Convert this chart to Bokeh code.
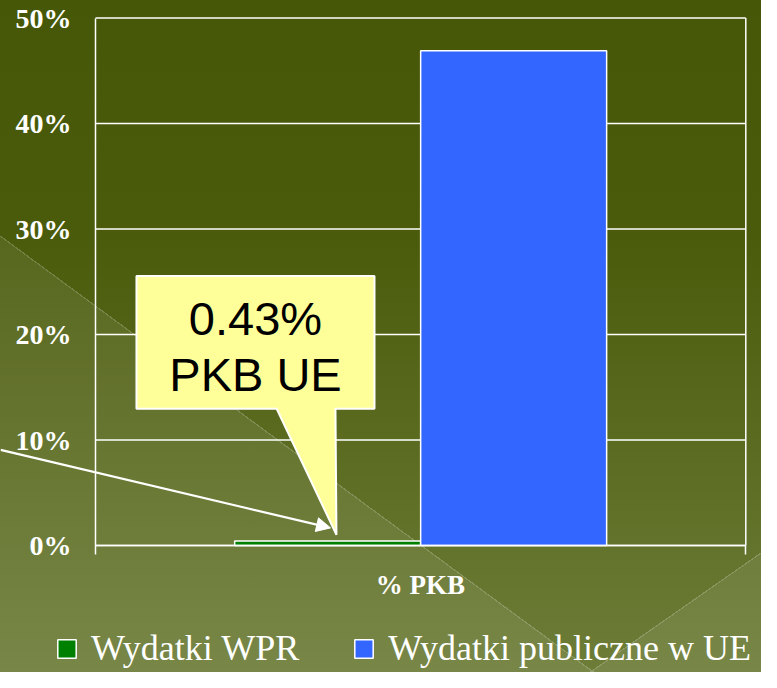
import math
from bokeh.plotting import figure
from bokeh.models import (Range1d, FixedTicker, PrintfTickFormatter, Legend, LegendItem,
                          Label, Arrow, NormalHead, ColumnDataSource, LinearAxis)
from bokeh.embed import file_html
from bokeh.resources import INLINE

# ---- data ----
category = "% PKB"
series = ["Wydatki WPR", "Wydatki publiczne w UE"]
values = [0.43, 46.9]
colors = ["#008000", "#3366FF"]
y_ticks = [0, 10, 20, 30, 40, 50]
callout_lines = ["0.43%", "PKB UE"]

W, H = 761, 672
# frame layout (pixels inside the canvas) for the value area
FL, FR, FT, FB = 95.0, 745.3, 17.6, 545.0
ppx = (FR - FL) / 1.0
ppy = (FB - FT) / 50.0

# ---- background (CSS gradients on the plot element) ----
def overlay(px, py, slope):
    nx, ny = -slope, 1.0
    n = math.hypot(nx, ny)
    nx, ny = nx / n, ny / n
    theta = math.degrees(math.atan2(nx, -ny)) % 360
    th = math.radians(theta)
    dx, dy = math.sin(th), -math.cos(th)
    L = abs(W * dx) + abs(H * dy)
    t0 = (px - W / 2) * dx + (py - H / 2) * dy + L / 2
    clear = "rgba(255,255,255,0)"
    edge = "rgba(255,255,255,0.22)"
    light = "rgba(255,255,255,0.075)"
    return (f"linear-gradient({theta:.2f}deg, {clear} 0px, {clear} {t0-0.6:.1f}px, "
            f"{edge} {t0-0.6:.1f}px, {edge} {t0+0.6:.1f}px, {light} {t0+0.6:.1f}px, {light} 100%)")

bg = ", ".join([
    overlay(0, 235.9, 0.735),
    overlay(590.6, 672, -0.698),
    "linear-gradient(to bottom, #465707 0%, #4a5b0b 35%, #6d7d38 100%)",
])

x_range = Range1d(-FL / ppx, (W - FL) / ppx)
y_range = Range1d(-(H - FB) / ppy, 50 + FT / ppy)

p = figure(width=W, height=H, output_backend="svg", toolbar_location=None,
           x_range=x_range, y_range=y_range, x_axis_type=None, y_axis_type=None,
           min_border=0)
p.styles = {"background": bg}
p.border_fill_color = None
p.background_fill_color = None
p.outline_line_color = None
p.grid.visible = False

# gridlines and right border of the value area
p.segment(x0=0, x1=1, y0=y_ticks, y1=y_ticks, line_color="white", line_width=1.5)
p.segment(x0=[1], x1=[1], y0=[0], y1=[50], line_color="white", line_width=1.5)

# y axis
ya = LinearAxis(fixed_location=0, bounds=(0, 50))
ya.ticker = FixedTicker(ticks=y_ticks)
ya.formatter = PrintfTickFormatter(format="%d%%")
ya.axis_line_color = "white"
ya.axis_line_width = 1.5
ya.major_tick_out = 0
ya.major_tick_in = 0
ya.minor_tick_out = 0
ya.minor_tick_in = 0
ya.major_label_standoff = 24
ya.major_label_text_font = "Liberation Serif"
ya.major_label_text_font_style = "bold"
ya.major_label_text_font_size = "28px"
ya.major_label_text_color = "white"
p.add_layout(ya, "left")

# x axis
xa = LinearAxis(fixed_location=0, bounds=(0, 1))
xa.ticker = FixedTicker(ticks=[0, 1])
xa.major_label_overrides = {0: "", 1: ""}
xa.major_label_text_font_size = "0px"
xa.major_label_standoff = 0
xa.axis_line_color = "white"
xa.axis_line_width = 1.5
xa.major_tick_line_color = "white"
xa.major_tick_line_width = 1.5
xa.major_tick_out = 9
xa.major_tick_in = 0
xa.minor_tick_out = 0
xa.minor_tick_in = 0
xa.axis_label = category
xa.axis_label_standoff = 15
xa.axis_label_text_font = "Liberation Serif"
xa.axis_label_text_font_style = "bold"
xa.axis_label_text_font_size = "27px"
xa.axis_label_text_color = "white"
p.add_layout(xa, "below")

# bars: two series clustered inside the single category
bar_w = 0.286
n = len(series)
centers = [0.5 + (i - (n - 1) / 2) * bar_w for i in range(n)]
src = ColumnDataSource(dict(x=centers, top=values, color=colors, name=series))
r = p.vbar(x="x", top="top", bottom=0, width=bar_w, source=src,
           fill_color="color", line_color="white", line_width=1.5)

# callout (annotation placed in data units)
bx0, bx1, by0, by1 = 0.063, 0.429, 12.96, 25.56
tipx, tipy = 0.3705, 1.02
pl, pr = 0.2786, 0.369
p.patch([bx0, bx1, bx1, pr, tipx, pl, bx0], [by1, by1, by0, by0, tipy, by0, by0],
        fill_color="#FFFF99", line_color="white", line_width=2)
cx = (bx0 + bx1) / 2
for txt, yy in zip(callout_lines, [21.55, 16.25]):
    p.add_layout(Label(x=cx, y=yy, text=txt, text_align="center", text_baseline="alphabetic",
                       text_font="Liberation Sans", text_font_size="47px", text_color="black"))

# arrow
p.add_layout(Arrow(x_start=-0.146, y_start=9.07, x_end=0.3614, y_end=1.67,
                   line_color="white", line_width=2.2,
                   end=NormalHead(size=14, fill_color="white", line_color="white")))

# legend (inside the full-canvas frame, near the bottom)
items = [LegendItem(label=s, renderers=[r], index=i) for i, s in enumerate(series)]
leg = Legend(items=items, orientation="horizontal", location=(55, 3),
             label_text_font="Liberation Serif", label_text_font_size="36px",
             label_text_color="white", glyph_width=23, glyph_height=23,
             label_standoff=13, spacing=53, padding=0, margin=0,
             background_fill_alpha=0, border_line_alpha=0)
p.add_layout(leg, "center")

open("out.html", "w").write(file_html(p, INLINE))
